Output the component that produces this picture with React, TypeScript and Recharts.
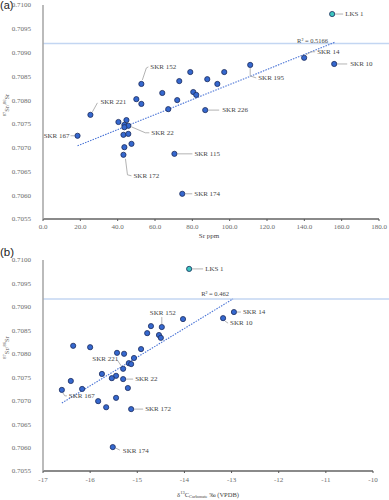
import React from 'react';
import { ScatterChart, Scatter, XAxis, YAxis, ReferenceLine, ReferenceDot } from 'recharts';

// ---------- shared ticks ----------
const ratioTicks = [0.7055, 0.706, 0.7065, 0.707, 0.7075, 0.708, 0.7085, 0.709, 0.7095, 0.71];
const srTicks = [0, 20, 40, 60, 80, 100, 120, 140, 160, 180];
const d13CTicks = [-17, -16, -15, -14, -13, -12, -11, -10];

// ---------- panel (a): Sr ppm vs 87Sr/86Sr ----------
const labelsA = ['LKS 1', 'SKR 14', 'SKR 10', 'SKR 195', '', '', '', '', '', 'SKR 152', '', '', '', '', '', '', '', 'SKR 226', 'SKR 221', '', '', '', 'SKR 22', '', '', '', '', '', 'SKR 172', 'SKR 115', 'SKR 174', 'SKR 167'];
const srPpmA = [154.9, 139.9, 156.0, 111.0, 97.1, 78.9, 88.0, 93.4, 73.0, 52.7, 63.9, 80.5, 82.1, 50.0, 52.7, 71.9, 67.1, 86.9, 25.4, 40.4, 44.7, 43.6, 45.7, 43.6, 43.1, 45.7, 47.4, 43.6, 43.1, 70.4, 74.6, 18.5];
const ratioA = [0.70981, 0.70889, 0.70876, 0.70874, 0.70859, 0.70859, 0.70844, 0.70834, 0.7084, 0.70834, 0.70815, 0.70817, 0.70811, 0.70802, 0.70792, 0.708, 0.70781, 0.70779, 0.70769, 0.70754, 0.70758, 0.70748, 0.70746, 0.70743, 0.70727, 0.70729, 0.70708, 0.70701, 0.70685, 0.70687, 0.70603, 0.70725];
const trendXA = [18.5, 156.5];
const trendYA = [0.70704, 0.70922];
const seawaterA = 0.70919;
const r2A = 'R² = 0.5166';

// ---------- panel (b): d13C vs 87Sr/86Sr ----------
const labelsB = ['LKS 1', '', 'SKR 152', '', '', '', '', '', '', '', '', '', '', '', '', 'SKR 221', '', '', '', 'SKR 22', '', '', 'SKR 167', '', '', '', '', 'SKR 172', 'SKR 174', 'SKR 14', 'SKR 10'];
const d13CB = [-13.9, -14.03, -14.48, -14.71, -14.79, -14.54, -14.5, -16.36, -16.0, -14.92, -15.43, -15.28, -15.07, -15.18, -15.13, -15.3, -15.75, -15.45, -15.54, -15.3, -16.41, -16.17, -16.6, -15.2, -15.83, -15.45, -15.66, -15.13, -15.52, -12.95, -13.18];
const ratioB = [0.70981, 0.70874, 0.70857, 0.70859, 0.70844, 0.7084, 0.70834, 0.70817, 0.70814, 0.7081, 0.70802, 0.708, 0.70791, 0.7078, 0.70778, 0.70768, 0.70757, 0.70753, 0.70748, 0.70746, 0.70742, 0.70725, 0.70723, 0.70727, 0.70699, 0.70706, 0.70686, 0.70682, 0.70601, 0.70889, 0.70876];
const trendXB = [-16.6, -12.97];
const trendYB = [0.70695, 0.70917];
const seawaterB = 0.70917;
const r2B = 'R² = 0.462';

const dataA = srPpmA.map((x, i) => ({ x, y: ratioA[i], label: labelsA[i] }));
const dataB = d13CB.map((x, i) => ({ x, y: ratioB[i], label: labelsB[i] }));

// ---------- label layouts (pixel offsets from point) ----------
type Lay = { leader: number[][]; tx: number; ty: number; anchor?: string };
const layoutA: Record<string, Lay> = {
  'LKS 1': { leader: [[3, 0], [11, 0]], tx: 13, ty: 0 },
  'SKR 14': { leader: [[2, -3], [7, -6], [11, -6]], tx: 13, ty: -6 },
  'SKR 10': { leader: [[3, 0], [13, 0]], tx: 16, ty: 0 },
  'SKR 195': { leader: [[0, 3], [0, 11], [6, 13]], tx: 8, ty: 13 },
  'SKR 226': { leader: [[3, 0], [14, 0]], tx: 17, ty: 0 },
  'SKR 152': { leader: [[1, -4], [5, -16], [7, -17]], tx: 9, ty: -17 },
  'SKR 221': { leader: [[2, -3], [7, -12]], tx: 10, ty: -13 },
  'SKR 167': { leader: [[-3, 0], [-7, 0]], tx: -8, ty: 0, anchor: 'end' },
  'SKR 22': { leader: [[3, 1], [17, 7], [21, 7]], tx: 23, ty: 7 },
  'SKR 172': { leader: [[2, 4], [4, 20], [8, 21]], tx: 10, ty: 21 },
  'SKR 115': { leader: [[3, 0], [18, 0]], tx: 20, ty: 0 },
  'SKR 174': { leader: [[3, 0], [10, 0]], tx: 12, ty: 0 },
};
const layoutB: Record<string, Lay> = {
  'LKS 1': { leader: [[3, 0], [14, 0]], tx: 16, ty: 0 },
  'SKR 152': { leader: [[0, -3], [0, -10]], tx: 1, ty: -14, anchor: 'middle' },
  'SKR 221': { leader: [[-2, -3], [-6, -9]], tx: -5, ty: -10, anchor: 'end' },
  'SKR 22': { leader: [[3, 0], [10, 0]], tx: 12, ty: 0 },
  'SKR 167': { leader: [[1, 3], [3, 6], [5, 6]], tx: 7, ty: 6 },
  'SKR 172': { leader: [[3, 0], [12, 0]], tx: 14, ty: 0 },
  'SKR 174': { leader: [[3, 1], [7, 3]], tx: 10, ty: 4 },
  'SKR 14': { leader: [[3, 0], [7, 0]], tx: 9, ty: 0 },
  'SKR 10': { leader: [[2, 3], [5, 5]], tx: 7, ty: 5 },
};

const SERIF = '"Liberation Serif", "Times New Roman", serif';
const SANS = '"Liberation Sans", Arial, sans-serif';
const TICK_STYLE = { fontSize: 7, fill: '#6a6a6a', fontFamily: SERIF };

const makeShape = (layout: Record<string, Lay>) => (props: any) => {
  const { cx, cy, payload } = props;
  const lab: string = payload && payload.label;
  const L = lab ? layout[lab] : undefined;
  const isLKS = lab === 'LKS 1';
  return (
    <g>
      {L && (
        <polyline
          points={L.leader.map(([dx, dy]) => `${cx + dx},${cy + dy}`).join(' ')}
          fill="none"
          stroke="#a0a0a0"
          strokeWidth={0.8}
        />
      )}
      <circle cx={cx} cy={cy} r={2.6} fill={isLKS ? '#3cc6c0' : '#3568cf'} stroke="#1d2c5c" strokeWidth={0.8} />
      {L && (
        <text
          x={cx + L.tx}
          y={cy + L.ty}
          dominantBaseline="central"
          textAnchor={(L.anchor as any) || 'start'}
          fontSize={7}
          fontFamily={SERIF}
          fill="#444"
        >
          {lab}
        </text>
      )}
    </g>
  );
};

const yTitle = (dy: number) => (props: any) => {
  const vb = props.viewBox || { x: 0, y: 0, width: 43, height: 200 };
  const cy = vb.y + vb.height / 2 + dy;
  return (
    <text
      transform={`translate(6,${cy}) rotate(-90)`}
      textAnchor="middle"
      dominantBaseline="central"
      fontSize={6.5}
      fontFamily={SERIF}
      fill="#555"
    >
      <tspan fontSize={4.5} dy={-2}>87</tspan>
      <tspan dy={2}>Sr/</tspan>
      <tspan fontSize={4.5} dy={-2}>86</tspan>
      <tspan dy={2}>Sr</tspan>
    </text>
  );
};

const xTitleA = (props: any) => {
  const vb = props.viewBox || { x: 43, y: 219, width: 336, height: 26 };
  return (
    <text x={vb.x + vb.width / 2 - 2} y={vb.y + 17} textAnchor="middle" dominantBaseline="central" fontSize={7} fontFamily={SERIF} fill="#444">
      Sr ppm
    </text>
  );
};

const xTitleB = (props: any) => {
  const vb = props.viewBox || { x: 43, y: 471, width: 330, height: 29 };
  return (
    <text x={vb.x + vb.width / 2} y={vb.y + 23} textAnchor="middle" dominantBaseline="central" fontSize={6.5} fontFamily={SERIF} fill="#444">
      <tspan>δ</tspan>
      <tspan fontSize={4.5} dy={-2}>13</tspan>
      <tspan dy={2}>C</tspan>
      <tspan fontSize={4.5} dy={1.5}>Carbonate</tspan>
      <tspan dy={-1.5}> ‰ (VPDB)</tspan>
    </text>
  );
};

const r2Label = (text: string, dx: number, dy: number) => (props: any) => {
  const vb = props.viewBox || { x: 0, y: 0 };
  return (
    <text x={vb.x + dx} y={vb.y + dy} textAnchor="end" dominantBaseline="central" fontSize={6.5} fontFamily={SERIF} fill="#444">
      {text}
    </text>
  );
};

export default function App() {
  return (
    <div style={{ position: 'absolute', left: 0, top: 0, width: 389, height: 500, background: '#fff' }}>
      <div style={{ position: 'absolute', left: 0, top: -2, fontFamily: SANS, fontSize: 11, lineHeight: '14px', color: '#222' }}>(a)</div>
      <div style={{ position: 'absolute', left: 0, top: 245, fontFamily: SANS, fontSize: 11.5, lineHeight: '14px', color: '#222' }}>(b)</div>
      <div style={{ position: 'absolute', left: 0, top: 0 }}>
        <ScatterChart width={389} height={245} margin={{ top: 5, right: 10, bottom: 0, left: 0 }}>
          <XAxis
            type="number"
            dataKey="x"
            domain={[0, 180]}
            ticks={srTicks}
            tickFormatter={(v: number) => v.toFixed(1)}
            height={26}
            tick={TICK_STYLE}
            tickSize={2}
            tickMargin={3}
            axisLine={{ stroke: '#8a8a8a', strokeWidth: 1.8 }}
            tickLine={{ stroke: '#555' }}
            label={{ content: xTitleA }}
          />
          <YAxis
            type="number"
            dataKey="y"
            domain={[0.7055, 0.71]}
            ticks={ratioTicks}
            tickFormatter={(v: number) => v.toFixed(4)}
            width={43}
            tick={TICK_STYLE}
            tickLine={false}
            tickMargin={6}
            axisLine={{ stroke: '#a5a5a5', strokeWidth: 1.5 }}
            label={{ content: yTitle(-7) }}
          />
          <ReferenceLine
            segment={[{ x: 0, y: seawaterA }, { x: 185.5, y: seawaterA }]}
            stroke="#c3d6f2"
            strokeWidth={1.5}
            ifOverflow="visible"
          />
          <ReferenceLine
            segment={[{ x: trendXA[0], y: trendYA[0] }, { x: trendXA[1], y: trendYA[1] }]}
            stroke="#4a74d6"
            strokeWidth={1.1}
            strokeDasharray="1.5 1.2"
            ifOverflow="visible"
          />
          <ReferenceDot x={trendXA[1]} y={trendYA[1]} r={0} fill="none" stroke="none" label={{ content: r2Label(r2A, -7, -2) }} />
          <Scatter data={dataA} isAnimationActive={false} shape={makeShape(layoutA)} />
        </ScatterChart>
      </div>
      <div style={{ position: 'absolute', left: 0, top: 245 }}>
        <ScatterChart width={389} height={255} margin={{ top: 15, right: 16, bottom: 0, left: 0 }}>
          <XAxis
            type="number"
            dataKey="x"
            domain={[-17, -10]}
            ticks={d13CTicks}
            height={29}
            tick={TICK_STYLE}
            tickSize={2}
            tickMargin={4}
            axisLine={{ stroke: '#8a8a8a', strokeWidth: 1.8 }}
            tickLine={{ stroke: '#555' }}
            label={{ content: xTitleB }}
          />
          <YAxis
            type="number"
            dataKey="y"
            domain={[0.7055, 0.71]}
            ticks={ratioTicks}
            tickFormatter={(v: number) => v.toFixed(4)}
            width={43}
            tick={TICK_STYLE}
            tickLine={false}
            tickMargin={6}
            axisLine={{ stroke: '#a5a5a5', strokeWidth: 1.5 }}
            label={{ content: yTitle(-18) }}
          />
          <ReferenceLine
            segment={[{ x: -17, y: seawaterB }, { x: -9.66, y: seawaterB }]}
            stroke="#c3d6f2"
            strokeWidth={1.5}
            ifOverflow="visible"
          />
          <ReferenceLine
            segment={[{ x: trendXB[0], y: trendYB[0] }, { x: trendXB[1], y: trendYB[1] }]}
            stroke="#4a74d6"
            strokeWidth={1.1}
            strokeDasharray="1.5 1.2"
            ifOverflow="visible"
          />
          <ReferenceDot x={trendXB[1]} y={trendYB[1]} r={0} fill="none" stroke="none" label={{ content: r2Label(r2B, -4, -5) }} />
          <Scatter data={dataB} isAnimationActive={false} shape={makeShape(layoutB)} />
        </ScatterChart>
      </div>
    </div>
  );
}
